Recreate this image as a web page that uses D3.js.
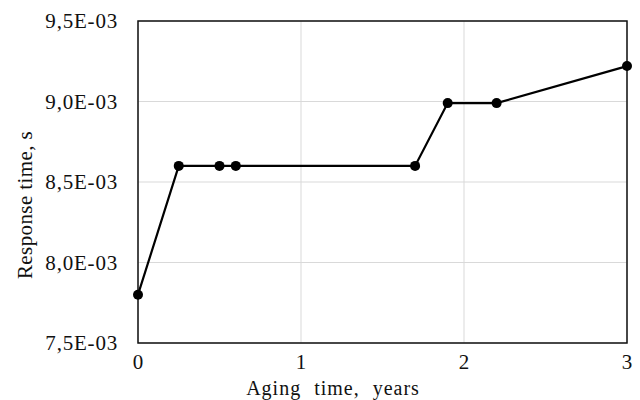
<!DOCTYPE html>
<html>
<head>
<meta charset="utf-8">
<script src="https://cdn.jsdelivr.net/npm/d3@7"></script>
<style>
  body { margin: 0; background: #fff; }
  #chart { width: 640px; height: 400px; }
  svg text { font-family: "Liberation Serif", "Times New Roman", serif; fill: #111; }
</style>
</head>
<body>
<div id="chart"></div>
<script>
// Data
const agingYears = [0, 0.25, 0.5, 0.6, 1.7, 1.9, 2.2, 3];
const responseTime = [7.80e-3, 8.60e-3, 8.60e-3, 8.60e-3, 8.60e-3, 8.99e-3, 8.99e-3, 9.22e-3];
const xTicks = [0, 1, 2, 3];
const yTicks = [7.5e-3, 8.0e-3, 8.5e-3, 9.0e-3, 9.5e-3];

const margin = { top: 21, right: 13, bottom: 57, left: 138 };
const width = 640 - margin.left - margin.right;
const height = 400 - margin.top - margin.bottom;

const svg = d3.select('#chart')
    .append('svg')
    .attr('width', 640)
    .attr('height', 400);

const g = svg.append('g')
    .attr('transform', `translate(${margin.left},${margin.top})`);

const xScale = d3.scaleLinear().domain([0, 3]).range([0, width]);
const yScale = d3.scaleLinear().domain([7.5e-3, 9.5e-3]).range([height, 0]);

// Gridlines
g.selectAll('.vgrid')
    .data(xTicks)
    .enter()
    .append('line')
    .attr('x1', d => xScale(d)).attr('x2', d => xScale(d))
    .attr('y1', 0).attr('y2', height)
    .attr('stroke', '#d9d9d9').attr('stroke-width', 1);

g.selectAll('.hgrid')
    .data(yTicks)
    .enter()
    .append('line')
    .attr('x1', 0).attr('x2', width)
    .attr('y1', d => yScale(d)).attr('y2', d => yScale(d))
    .attr('stroke', '#d9d9d9').attr('stroke-width', 1);

// Plot border
g.append('rect')
    .attr('width', width).attr('height', height)
    .attr('fill', 'none')
    .attr('stroke', '#111').attr('stroke-width', 1.5);

// Tick format like "9,5E-03"
const fmt = d => d3.format('.1e')(d).replace('.', ',').replace(/e-(\d)$/, 'E-0$1').replace(/e-(\d\d)$/, 'E-$1');

const xAxis = g.append('g')
    .attr('transform', `translate(0,${height})`)
    .call(d3.axisBottom(xScale).tickValues(xTicks).tickFormat(d3.format('d')).tickSize(0).tickPadding(11));
xAxis.select('.domain').remove();
xAxis.attr('font-family', '"Liberation Serif", serif').attr('font-size', 21);
xAxis.selectAll('text')
    .style('letter-spacing', '0.8px')
    .attr('fill', '#111');

const yAxis = g.append('g')
    .call(d3.axisLeft(yScale).tickValues(yTicks).tickFormat(fmt).tickSize(0).tickPadding(20));
yAxis.select('.domain').remove();
yAxis.attr('font-family', '"Liberation Serif", serif').attr('font-size', 21);
yAxis.selectAll('text')
    .style('letter-spacing', '0.8px')
    .attr('fill', '#111');

// Axis titles
svg.append('text')
    .attr('x', 333)
    .attr('y', 395)
    .attr('text-anchor', 'middle')
    .style('font-size', '20px')
    .style('letter-spacing', '1px')
    .style('word-spacing', '7px')
    .text('Aging time, years');

svg.append('text')
    .attr('transform', 'translate(32,205) rotate(-90)')
    .attr('text-anchor', 'middle')
    .style('font-size', '21px')
    .style('letter-spacing', '0.4px')
    .text('Response time, s');

// Line and markers
const line = d3.line()
    .x((d, i) => xScale(agingYears[i]))
    .y(d => yScale(d));

g.append('path')
    .datum(responseTime)
    .attr('d', line)
    .attr('fill', 'none')
    .attr('stroke', '#000')
    .attr('stroke-width', 2.2);

g.selectAll('.pt')
    .data(responseTime)
    .enter()
    .append('circle')
    .attr('cx', (d, i) => xScale(agingYears[i]))
    .attr('cy', d => yScale(d))
    .attr('r', 5)
    .attr('fill', '#000');
</script>
</body>
</html>
